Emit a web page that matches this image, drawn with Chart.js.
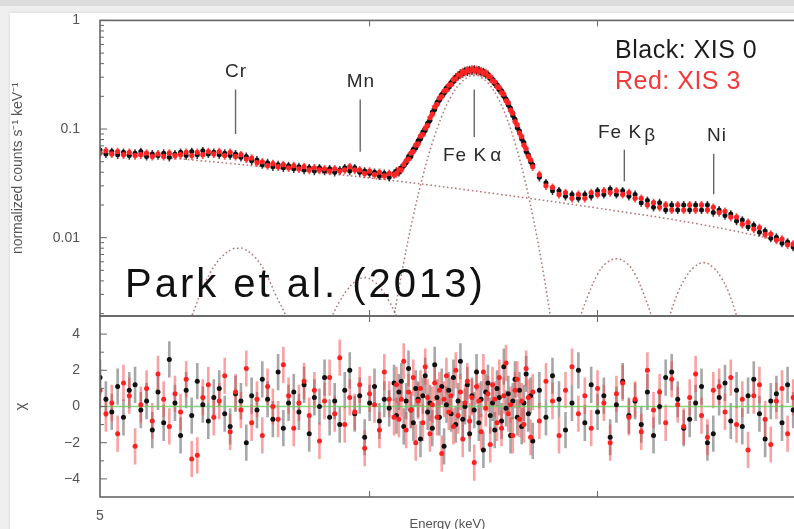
<!DOCTYPE html>
<html><head><meta charset="utf-8">
<script src="https://cdn.jsdelivr.net/npm/chart.js"></script>
<style>
html,body{margin:0;padding:0;width:794px;height:529px;overflow:hidden;background:#efefef;}
#topband{position:absolute;left:0;top:0;width:794px;height:6px;background:#dcdcdc;}
#panel{position:absolute;left:10px;top:13px;width:790px;height:520px;background:#fff;box-shadow:0 0 3px rgba(0,0,0,0.12);}
canvas{position:absolute;left:0;top:0;}
.t{position:absolute;font-family:'Liberation Sans',Arial,sans-serif;line-height:1;white-space:nowrap;color:#2a2a2a;}
</style></head><body>
<div id="topband"></div><div id="panel"></div>
<canvas id="c1" width="799" height="545"></canvas>
<canvas id="c2" width="799" height="545"></canvas>
<div class="t" style="left:186px;top:61px;width:100px;text-align:center;font-size:19px;letter-spacing:1px;">Cr</div>
<div class="t" style="left:311px;top:71px;width:100px;text-align:center;font-size:19px;letter-spacing:1px;">Mn</div>
<div class="t" style="left:443px;top:145px;font-size:19px;letter-spacing:1px;">Fe K<span style="margin-left:3px">α</span></div>
<div class="t" style="left:598px;top:122px;font-size:19px;letter-spacing:1px;">Fe K<span style="margin-left:2px;position:relative;top:3px">β</span></div>
<div class="t" style="left:707px;top:125px;font-size:19px;letter-spacing:1px;">Ni</div>
<div class="t" style="left:615px;top:37px;font-size:25px;letter-spacing:0.5px;color:#1c1c1c;">Black: XIS 0</div>
<div class="t" style="left:615px;top:68px;font-size:25px;letter-spacing:0.5px;color:#f23a3a;">Red: XIS 3</div>
<div class="t" style="left:125px;top:263px;font-size:40px;letter-spacing:3px;color:#111;">Park et al. (2013)</div>
<script>
// ---------- data ----------
const energy = [
 5.00,5.02,5.04,5.06,5.08,5.10,5.12,5.14,5.16,5.18,
 5.20,5.22,5.24,5.26,5.28,5.30,5.32,5.34,5.36,5.38,
 5.40,5.42,5.44,5.46,5.48,5.50,5.52,5.54,5.56,5.58,
 5.60,5.62,5.64,5.66,5.68,5.70,5.72,5.74,5.76,5.78,
 5.80,5.82,5.84,5.86,5.88,5.90,5.92,5.94,5.96,5.98,
 6.00,6.02,6.04,6.06,6.08,6.10,
 6.11,6.12,6.13,6.14,6.15,6.16,6.17,6.18,6.19,6.20,
 6.21,6.22,6.23,6.24,6.25,6.26,6.27,6.28,6.29,6.30,
 6.31,6.32,6.33,6.34,6.35,6.36,6.37,6.38,6.39,6.40,
 6.41,6.42,6.43,6.44,6.45,6.46,6.47,6.48,6.49,6.50,
 6.51,6.52,6.53,6.54,6.55,6.56,6.57,6.58,6.59,6.60,
 6.61,6.62,6.63,6.64,6.65,6.66,6.67,6.68,6.69,6.70,
 6.73,6.76,6.79,6.82,6.85,6.88,6.91,6.94,6.97,7.00,
 7.03,7.06,7.09,7.12,7.15,7.18,7.21,7.24,7.27,7.30,
 7.33,7.36,7.39,7.42,7.45,7.48,7.51,7.54,7.57,7.60,
 7.63,7.66,7.69,7.72,7.75,7.78,7.81,7.84,7.87,7.90,
 7.93,7.96,7.99];

const xis0Flux = [
 .064,.059,.062,.058,.061,.057,.060,.062,.056,.059,
 .057,.060,.055,.059,.061,.057,.062,.058,.063,.059,
 .061,.058,.060,.057,.059,.055,.056,.051,.052,.047,
 .049,.045,.047,.044,.046,.043,.045,.042,.044,.041,
 .044,.041,.043,.040,.042,.044,.041,.044,.040,.041,
 .039,.040,.037,.039,.036,.039,
 .041,.040,.044,.046,.049,.056,.056,.065,.067,.078,
 .081,.094,.097,.113,.120,.143,.151,.176,.184,.208,
 .213,.238,.242,.268,.274,.301,.305,.327,.324,.345,
 .337,.353,.344,.356,.342,.350,.332,.338,.317,.318,
 .292,.287,.261,.255,.230,.225,.200,.189,.166,.155,
 .133,.123,.103,.096,.081,.075,.062,.058,.050,.047,
 .036,.032,.027,.027,.024,.025,.023,.025,.024,.027,
 .025,.028,.025,.027,.024,.025,.021,.022,.019,.021,
 .018,.020,.018,.020,.018,.020,.018,.020,.017,.018,
 .016,.0165,.0142,.0145,.0126,.0130,.0112,.0115,.0099,.0101,
 .0089,.0091,.0082];

const xis3Flux = [
 .060,.063,.059,.062,.058,.061,.057,.058,.060,.056,
 .059,.056,.060,.057,.058,.061,.057,.061,.058,.062,
 .059,.062,.057,.061,.056,.058,.053,.054,.049,.050,
 .046,.048,.045,.047,.044,.046,.043,.045,.042,.044,
 .042,.043,.041,.043,.041,.042,.045,.042,.042,.039,
 .041,.038,.040,.037,.039,.038,
 .039,.042,.042,.047,.051,.053,.060,.062,.071,.073,
 .086,.089,.102,.108,.127,.137,.160,.169,.193,.199,
 .224,.228,.253,.257,.286,.290,.316,.314,.337,.332,
 .350,.342,.357,.345,.355,.339,.345,.327,.330,.307,
 .304,.278,.272,.246,.241,.216,.210,.182,.175,.149,
 .140,.117,.109,.092,.085,.071,.066,.056,.052,.045,
 .038,.030,.029,.025,.026,.023,.025,.023,.026,.025,
 .027,.026,.027,.025,.026,.023,.023,.020,.021,.019,
 .020,.018,.020,.018,.020,.018,.020,.018,.019,.017,
 .0175,.0155,.0155,.0133,.0138,.0120,.0124,.0107,.0108,.0095,
 .0097,.0086,.0087];

const xis0Chi = [
 1.6,0.4,-0.3,1.1,-0.6,0.9,1.2,-0.2,0.3,-1.3,
 0.8,-0.9,2.6,0.2,-1.6,0.9,-0.5,1.4,0.1,-0.8,
 0.5,1.0,-0.4,-1.1,0.7,0.3,-2.0,0.6,-0.2,1.5,
 0.4,-0.7,1.9,-1.2,0.2,0.8,-0.3,1.2,-1.5,0.5,
 0.0,1.6,-0.6,0.3,-1.0,0.9,2.0,-0.4,0.6,-1.7,
 0.2,1.1,-0.8,0.4,-0.1,1.3,
 -0.5,0.8,1.4,-1.1,0.3,2.1,-0.2,-0.9,1.0,0.4,
 -1.8,0.6,1.7,-0.3,0.2,-1.2,2.3,0.5,-0.6,1.1,
 -2.2,0.1,0.9,-0.4,1.6,-1.0,0.3,2.5,-0.7,0.0,
 1.2,-1.5,0.6,-0.2,1.9,-0.9,0.4,-2.4,0.8,1.3,
 -0.5,0.2,-1.3,1.0,0.5,-0.8,2.2,-0.1,0.7,-1.6,
 0.3,1.5,-0.6,0.9,-1.1,0.2,1.8,-0.4,0.6,-1.9,
 0.9,-0.6,1.7,0.4,-1.3,0.2,2.0,-0.9,1.2,-0.3,
 0.6,-1.7,0.1,1.4,-0.5,0.3,-1.0,0.8,-1.6,0.0,
 1.6,1.9,0.4,-1.2,-0.7,0.2,1.1,-2.0,-1.5,0.5,
 1.3,-0.8,0.9,-1.1,0.6,1.5,-0.4,-1.8,0.3,0.7,
 -0.9,1.2,-0.2];

const xis3Chi = [
 0.9,-0.4,0.2,-1.5,1.3,0.6,-2.2,0.1,1.0,-0.8,
 1.8,0.4,-1.1,0.7,-0.3,1.5,-2.9,-2.7,0.5,1.2,
 -0.6,0.3,1.7,-1.4,0.8,-0.2,2.1,-0.9,0.4,-1.6,
 1.1,0.0,-0.7,2.3,0.6,-1.2,0.2,1.4,-0.5,0.9,
 -1.9,0.3,1.6,-0.4,2.7,-1.0,0.5,-0.3,1.2,-2.3,
 0.7,0.1,-1.3,1.9,0.4,-0.6,
 1.2,-0.7,0.4,2.5,-1.3,0.8,-0.2,1.6,-2.0,0.3,
 1.0,-0.9,2.2,0.5,-1.5,0.1,1.3,-0.6,0.9,-2.6,
 0.4,1.7,-0.3,0.6,-1.1,2.0,-0.5,0.8,-1.8,0.2,
 1.4,-0.8,0.5,-3.1,1.1,0.3,-1.4,1.9,-0.1,0.7,
 -2.1,1.2,0.4,-0.9,1.6,-1.2,0.6,2.4,-0.4,0.1,
 -1.6,0.9,1.5,-0.7,0.3,-1.0,2.1,0.5,-1.7,0.8,
 -0.8,1.4,0.3,-1.6,0.9,2.2,-0.4,0.6,-1.2,1.0,
 0.2,-2.0,0.7,1.3,-0.6,0.4,-1.4,2.0,-0.2,0.8,
 -0.9,1.5,0.1,-1.1,0.5,1.8,-0.5,-1.7,0.9,1.1,
 -0.3,1.6,-1.0,0.4,-2.4,0.6,1.2,-0.7,-2.1,0.3,
 1.0,-1.5,0.5];

// model components (dotted)
const contE    = [5.00,5.35,5.72,6.12,6.55,7.00,7.49,8.00];
const contFlux = [0.0605,0.0512,0.0415,0.0330,0.0251,0.0187,0.0134,0.0088];
const crE    = [5.28,5.32,5.35,5.39,5.43,5.47,5.49,5.51,5.55,5.59,5.63,5.67,5.70];
const crFlux = [0.0012,0.0019,0.0030,0.0049,0.0067,0.0079,0.0080,0.0079,0.0067,0.0049,0.0030,0.0019,0.0012];
const mnE    = [5.82,5.85,5.88,5.91,5.94,5.98,6.02,6.05,6.08,6.11,6.14];
const mnFlux = [0.0013,0.0019,0.0026,0.0033,0.0039,0.0043,0.0039,0.0033,0.0026,0.0019,0.0013];
const feKaE    = [6.08,6.10,6.14,6.18,6.22,6.26,6.30,6.34,6.38,6.42,6.44,6.46,6.50,6.54,6.58,6.62,6.66,6.70,6.74,6.78,6.80];
const feKaFlux = [0.0010,0.0019,0.0059,0.0159,0.0369,0.0745,0.131,0.200,0.265,0.307,0.310,0.307,0.265,0.200,0.131,0.0745,0.0369,0.0159,0.0059,0.0019,0.0010];
const feKbE    = [6.89,6.92,6.96,7.00,7.04,7.09,7.14,7.18,7.22,7.26,7.29];
const feKbFlux = [0.0012,0.0019,0.0031,0.0046,0.0058,0.0064,0.0058,0.0046,0.0031,0.0019,0.0012];
const niE    = [7.32,7.35,7.39,7.43,7.47,7.52,7.57,7.61,7.65,7.69,7.72];
const niFlux = [0.0012,0.0019,0.0031,0.0043,0.0053,0.0059,0.0053,0.0043,0.0031,0.0019,0.0012];

// line identification markers
const lineNames  = ['Cr','Mn','Fe Kα','Fe Kβ','Ni'];
const lineE      = [5.480,5.962,6.440,7.128,7.572];
const lineTop    = [0.231,0.187,0.231,0.0645,0.0591];
const lineBottom = [0.090,0.0618,0.0846,0.033,0.0251];

// axis ticks
const fluxTicks = [0.01,0.1,1];
const fluxMinorTicks = [0.002,0.003,0.004,0.005,0.006,0.007,0.008,0.009,
  0.02,0.03,0.04,0.05,0.06,0.07,0.08,0.09,0.2,0.3,0.4,0.5,0.6,0.7,0.8,0.9];
const chiTicks = [-4,-2,0,2,4];
const chiMinorTicks = [-3,-1,1,3];
const energyLabelTicks = [5];
const energyMarkTicks = [6,7];
const fluxErrFrac = 0.085;
const chiErr = 1;

// ---------- helpers ----------
const pts = (xs, ys) => xs.map((x,i)=>({x:x, y:ys[i]}));
function bars(xs, ys, lo, hi){
  const out=[];
  xs.forEach((x,i)=>{ out.push({x:x,y:lo(ys[i])},{x:x,y:hi(ys[i])},{x:x,y:null}); });
  return out;
}
const FONT = "'Liberation Sans', Arial, sans-serif";
const AXC = '#555';

const framePlugin = {
  id:'frame',
  afterDatasetsDraw(chart, args, o){
    const {ctx, chartArea:a, scales} = chart;
    ctx.save();
    ctx.strokeStyle = '#666';
    ctx.lineWidth = 1;
    const seg=(x1,y1,x2,y2)=>{ctx.beginPath();ctx.moveTo(x1,y1);ctx.lineTo(x2,y2);ctx.stroke();};
    (o.yMajor||[]).forEach(v=>{const p=scales.y.getPixelForValue(v); seg(a.left,p,a.left+7,p);});
    (o.yMinor||[]).forEach(v=>{const p=scales.y.getPixelForValue(v); seg(a.left,p,a.left+4,p);});
    (o.xMajor||[]).forEach(v=>{const p=scales.x.getPixelForValue(v); seg(p,a.top,p,a.top+6); seg(p,a.bottom,p,a.bottom-6);});
    if (o.markers) {
      ctx.strokeStyle = '#666'; ctx.lineWidth = 1.4;
      lineE.forEach((e,i)=>{
        const x = scales.x.getPixelForValue(e);
        seg(x, scales.y.getPixelForValue(lineTop[i]), x, scales.y.getPixelForValue(lineBottom[i]));
      });
    }
    ctx.strokeStyle = '#666'; ctx.lineWidth = 1.6;
    ctx.strokeRect(a.left, a.top, a.right-a.left, a.bottom-a.top);
    ctx.restore();
  }
};

const modelStyle = {showLine:true, pointRadius:0, borderColor:'rgba(170,90,90,0.85)', borderWidth:1.5, borderDash:[1.6,2.6], tension:0.4, fill:false};

new Chart(document.getElementById('c1'), {
  type:'scatter',
  data:{datasets:[
    {label:'XIS 3', data:pts(energy,xis3Flux), pointRadius:2.6, pointBackgroundColor:'#ff2424', pointBorderWidth:0},
    {label:'XIS 0', data:pts(energy,xis0Flux), pointRadius:2.5, pointBackgroundColor:'#111', pointBorderWidth:0},
    {label:'XIS 3 err', data:bars(energy,xis3Flux,v=>v*(1-fluxErrFrac),v=>v*(1+fluxErrFrac)), showLine:true, spanGaps:false, pointRadius:0, borderColor:'rgba(255,40,40,0.8)', borderWidth:1.8},
    {label:'XIS 0 err', data:bars(energy,xis0Flux,v=>v*(1-fluxErrFrac),v=>v*(1+fluxErrFrac)), showLine:true, spanGaps:false, pointRadius:0, borderColor:'rgba(20,20,20,0.8)', borderWidth:1.6},
    Object.assign({label:'continuum', data:pts(contE,contFlux)}, modelStyle),
    Object.assign({label:'Cr', data:pts(crE,crFlux)}, modelStyle),
    Object.assign({label:'Mn', data:pts(mnE,mnFlux)}, modelStyle),
    Object.assign({label:'Fe Ka', data:pts(feKaE,feKaFlux)}, modelStyle),
    Object.assign({label:'Fe Kb', data:pts(feKbE,feKbFlux)}, modelStyle),
    Object.assign({label:'Ni', data:pts(niE,niFlux)}, modelStyle)
  ]},
  options:{
    responsive:false, animation:false, events:[],
    layout:{padding:{top:17,right:0,bottom:229,left:0}},
    plugins:{legend:{display:false}, tooltip:{enabled:false},
      frame:{yMajor:fluxTicks, yMinor:fluxMinorTicks, xMajor:energyMarkTicks, markers:true}},
    scales:{
      x:{type:'logarithmic', min:5, max:8, display:false},
      y:{type:'logarithmic', min:0.0019, max:1,
        afterFit(s){ s.width = 100; },
        afterBuildTicks(s){ s.ticks = fluxTicks.map(v=>({value:v})); },
        grid:{display:false}, border:{display:false},
        ticks:{padding:12, color:AXC, font:{family:FONT,size:14}, callback:v=>String(v)},
        title:{display:true, text:'normalized counts s⁻¹ keV⁻¹', color:AXC, font:{family:FONT,size:14}, padding:{top:10,bottom:0}}
      }
    }
  },
  plugins:[framePlugin]
});

new Chart(document.getElementById('c2'), {
  type:'scatter',
  data:{datasets:[
    {label:'XIS 3', data:pts(energy,xis3Chi), pointRadius:2.5, pointBackgroundColor:'#ff2020', pointBorderWidth:0},
    {label:'XIS 0', data:pts(energy,xis0Chi), pointRadius:2.5, pointBackgroundColor:'#111', pointBorderWidth:0},
    {label:'zero', data:[{x:5,y:0},{x:8,y:0}], showLine:true, pointRadius:0, borderColor:'rgba(110,205,100,0.85)', borderWidth:1.6},
    {label:'XIS 3 err', data:bars(energy,xis3Chi,v=>v-chiErr,v=>v+chiErr), showLine:true, spanGaps:false, pointRadius:0, borderColor:'rgba(245,70,70,0.5)', borderWidth:2.6},
    {label:'XIS 0 err', data:bars(energy,xis0Chi,v=>v-chiErr,v=>v+chiErr), showLine:true, spanGaps:false, pointRadius:0, borderColor:'rgba(60,60,60,0.45)', borderWidth:2.6}
  ]},
  options:{
    responsive:false, animation:false, events:[],
    layout:{padding:{top:316,right:0,bottom:0,left:0}},
    plugins:{legend:{display:false}, tooltip:{enabled:false},
      frame:{yMajor:chiTicks, yMinor:chiMinorTicks, xMajor:energyMarkTicks, markers:false}},
    scales:{
      x:{type:'logarithmic', min:5, max:8,
        afterFit(s){ s.height = 48; },
        afterBuildTicks(s){ s.ticks = energyLabelTicks.map(v=>({value:v})); },
        grid:{display:false}, border:{display:false},
        ticks:{padding:3, maxRotation:0, autoSkip:false, color:AXC, font:{family:FONT,size:14}, callback:v=>String(v)},
        title:{display:true, text:'Energy (keV)', color:AXC, font:{family:FONT,size:13}, padding:{top:0,bottom:13}}
      },
      y:{type:'linear', min:-5, max:5,
        afterFit(s){ s.width = 100; },
        afterBuildTicks(s){ s.ticks = chiTicks.map(v=>({value:v})); },
        grid:{display:false}, border:{display:false},
        ticks:{padding:12, color:AXC, font:{family:FONT,size:14}, callback:v=> v<0 ? '\u2212'+(-v) : String(v)},
        title:{display:true, text:'χ', color:AXC, font:{family:FONT,size:15}, padding:{top:12,bottom:0}}
      }
    }
  },
  plugins:[framePlugin]
});
</script>
</body></html>
